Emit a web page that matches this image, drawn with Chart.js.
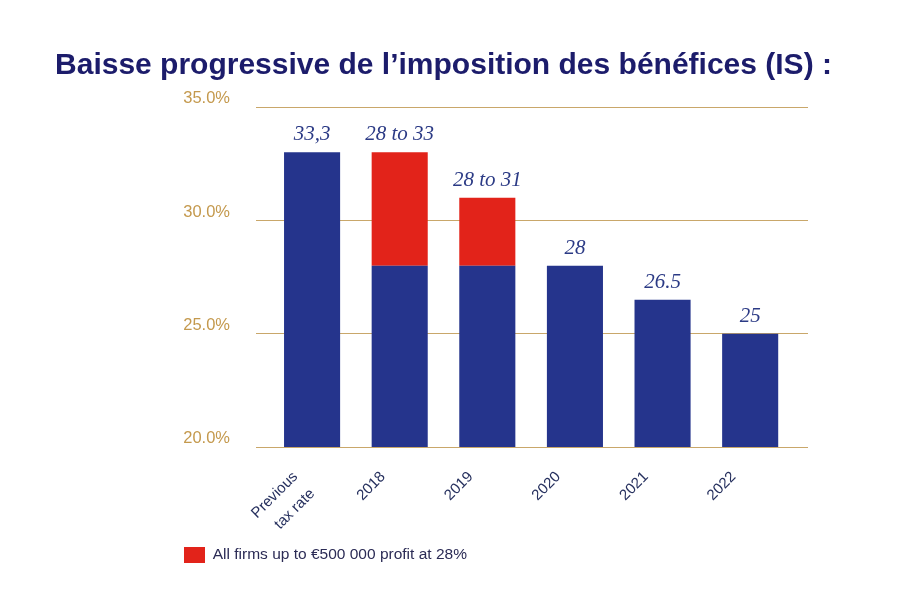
<!DOCTYPE html>
<html>
<head>
<meta charset="utf-8">
<script src="https://cdn.jsdelivr.net/npm/chart.js@4/dist/chart.umd.min.js"></script>
<style>
  body { margin: 0; background: #fff; }
  #wrap { position: relative; width: 910px; height: 602px; }
  #title {
    position: absolute; left: 0; top: 47px; width: 887px;
    text-align: center; line-height: 30px;
    font: bold 30px "Liberation Sans", Arial, sans-serif; color: #1c1c6b;
    white-space: nowrap;
  }
</style>
</head>
<body>
<div id="wrap">
  <div id="title">Baisse progressive de l’imposition des bénéfices (IS) :</div>
  <canvas id="chart"></canvas>
</div>
<script>
const categories = [["Previous", "tax rate"], "2018", "2019", "2020", "2021", "2022"];
const baseRates = [33, 28, 28, 28, 26.5, 25];
const smallFirmExtra = [null, 5, 3, null, null, null];
const valueLabels = ["33,3", "28 to 33", "28 to 31", "28", "26.5", "25"];
const yTickValues = [20, 25, 30, 35];
const yTickLabels = ["20.0%", "25.0%", "30.0%", "35.0%"];
const legendLabel = "All firms up to €500 000 profit at 28%";

const navy = "#25348c";
const red = "#e2231a";
const gold = "#c9a76a";
const tickShift = -0.19;

const valueLabelPlugin = {
  id: "valueLabels",
  afterDatasetsDraw(chart) {
    const ctx = chart.ctx;
    ctx.save();
    ctx.font = "italic 21px 'Liberation Serif', 'Times New Roman', serif";
    ctx.fillStyle = "#2b3a85";
    ctx.textAlign = "center";
    ctx.textBaseline = "alphabetic";
    valueLabels.forEach((text, i) => {
      let top = Infinity;
      let x = 0;
      chart.data.datasets.forEach((ds, d) => {
        const el = chart.getDatasetMeta(d).data[i];
        if (el && ds.data[i].y != null) {
          top = Math.min(top, el.y);
          x = el.x;
        }
      });
      ctx.fillText(text, x, top - 12);
    });
    ctx.restore();
  },
};

new Chart(document.getElementById("chart"), {
  type: "bar",
  data: {
    datasets: [
      {
        label: "Rate",
        data: baseRates.map((v, i) => ({ x: i, y: v })),
        backgroundColor: navy,
        borderWidth: 0,
        barPercentage: 0.8,
        categoryPercentage: 0.8,
      },
      {
        label: legendLabel,
        data: smallFirmExtra.map((v, i) => ({ x: i, y: v })),
        backgroundColor: red,
        borderWidth: 0,
        barPercentage: 0.8,
        categoryPercentage: 0.8,
      },
    ],
  },
  options: {
    responsive: true,
    maintainAspectRatio: false,
    animation: false,
    layout: { padding: { top: 107, left: 174, right: 102, bottom: 29 } },
    plugins: {
      tooltip: { enabled: false },
      legend: {
        position: "bottom",
        align: "start",
        labels: {
          filter: (item) => item.datasetIndex === 1,
          boxWidth: 21,
          boxHeight: 16,
          padding: 10,
          color: "#2b2b55",
          font: { family: "'Liberation Sans', Arial, sans-serif", size: 15.5 },
        },
      },
    },
    scales: {
      x: {
        type: "linear",
        stacked: true,
        offset: false,
        min: -0.64,
        max: 5.66,
        grid: { display: false },
        border: { display: false },
        afterBuildTicks: (scale) => {
          scale.ticks = categories.map((c, i) => ({ value: i + tickShift }));
        },
        afterFit: (scale) => {
          scale.height = 90;
        },
        ticks: {
          autoSkip: false,
          maxRotation: 45,
          minRotation: 45,
          padding: 11,
          color: "#26305e",
          font: { family: "'Liberation Sans', Arial, sans-serif", size: 15, lineHeight: 1.6 },
          callback: (value, index) => categories[index],
        },
      },
      y: {
        stacked: true,
        min: 20,
        max: 35,
        z: 1,
        border: { display: false },
        grid: { color: gold, lineWidth: 1, drawTicks: false },
        afterBuildTicks: (scale) => {
          scale.ticks = yTickValues.map((v) => ({ value: v }));
        },
        afterFit: (scale) => {
          scale.width = 82;
        },
        ticks: {
          padding: 26,
          color: "#c4994d",
          font: { family: "'Liberation Sans', Arial, sans-serif", size: 16.5, lineHeight: 1 },
          callback: (value, index) => [yTickLabels[index], ""],
        },
      },
    },
  },
  plugins: [valueLabelPlugin],
});
</script>
</body>
</html>
